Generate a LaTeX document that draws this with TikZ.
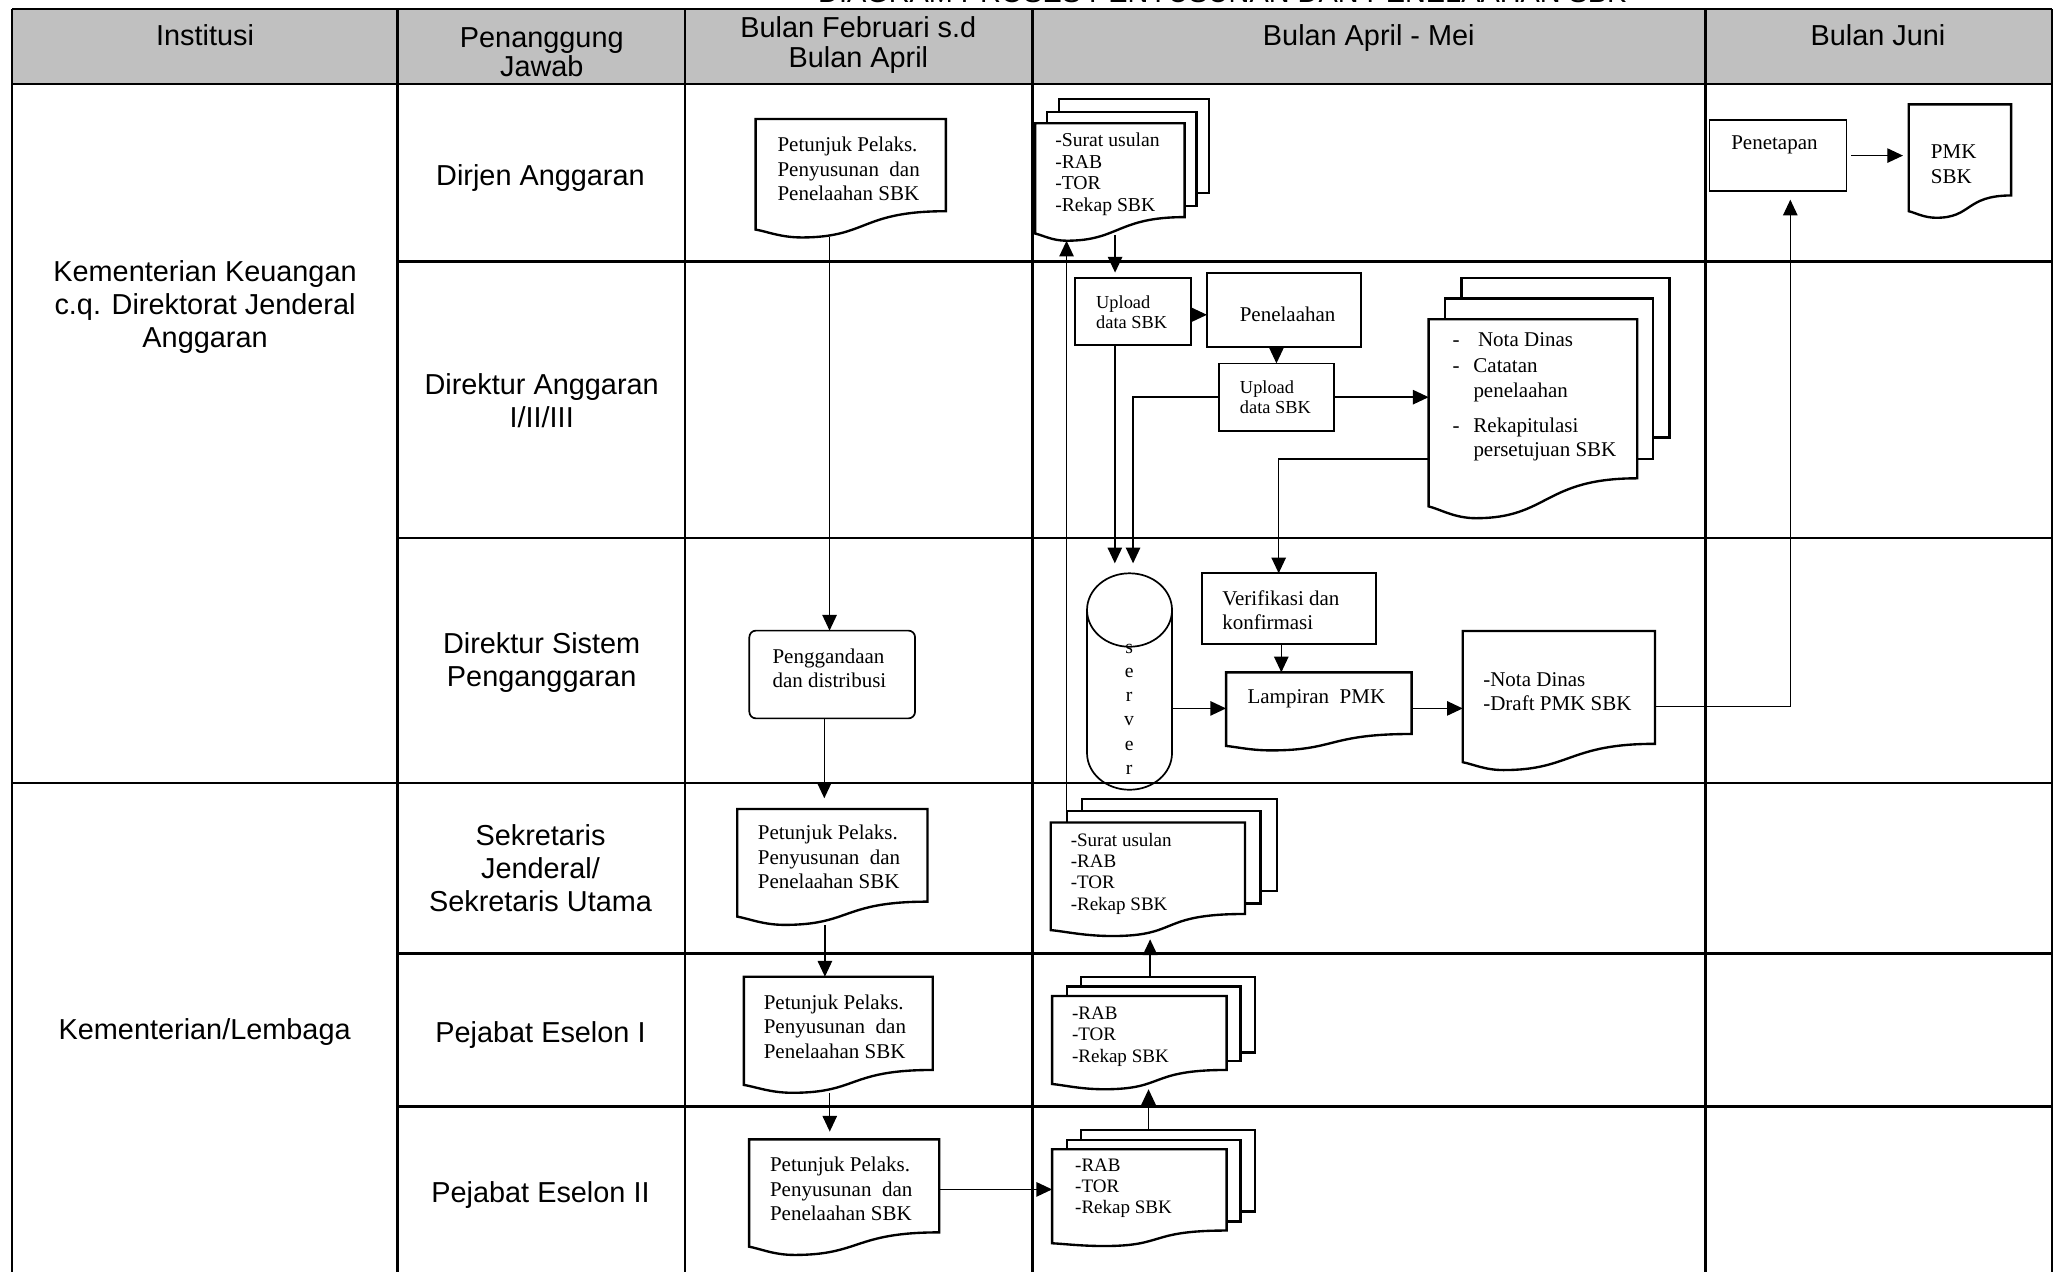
\documentclass[tikz,border=0pt]{standalone}
\usepackage{fontspec}
\setmainfont{Liberation Serif}
\newfontfamily\arialf{Liberation Sans}
\usetikzlibrary{arrows.meta,calc}
\definecolor{hdrgray}{RGB}{192,192,192}
\tikzset{
  gridline/.style={line width=1.9pt},
  sans/.style={font=\arialf\fontsize{22}{25.3}\selectfont, align=center, inner sep=0pt, anchor=north},
  hsans/.style={font=\arialf\fontsize{22}{22.5}\selectfont, align=center, inner sep=0pt, anchor=north},
  area/.style={draw=none, inner sep=0pt, outer sep=0pt, anchor=north west},
  txt/.style={font=\fontsize{16}{18.7}\selectfont, align=left, inner sep=0pt, anchor=north west},
  stxt/.style={font=\fontsize{14.5}{16.3}\selectfont, align=left, inner sep=0pt, anchor=north west},
  boxline/.style={line width=1.3pt},
  docline/.style={line width=1.8pt, line join=miter},
  conn/.style={line width=1.1pt, -{Triangle[length=12pt,width=11pt]}},
}
\newcommand\areanode[5]{\node[area, minimum width={(#4-#2)*1pt}, minimum height={(#5-#3)*1pt}] (#1) at (#2,#3) {};}
\newcommand\docpath[7]{%
  \draw[docline] (#1,#2) -- (#3,#2) -- (#3,#4)
    .. controls ({#1+0.55*(#3-#1)},#4) and ({#5+0.35*(#3-#1)},#6) .. (#5,#6)
    .. controls ({#5-0.45*(#5-#1)},#6) and ({#1+0.25*(#5-#1)},{#7+0.25*(#6-#7)}) .. (#1,#7) -- cycle;}
\newcommand\backpages[9]{%
  \draw[docline] (#1,#9) -- (#1,#2) -- (#3,#2) -- (#3,#4) -- ({#3-(#7-#3)},#4);
  \draw[docline] (#5,#2) -- (#5,#6) -- (#7,#6) -- (#7,#8) -- (#3,#8);}
\begin{document}
\begin{tikzpicture}[x=1pt,y=-1pt]
\useasboundingbox (0,0) rectangle (1568,969);
% ---------- table ----------
\fill[hdrgray] (9,7) rectangle (1564,64);
\draw[gridline] (9,7) -- (1564,7);
\draw[gridline] (9,64) -- (1564,64);
\draw[gridline] (303,199.3) -- (1564,199.3);
\draw[gridline] (303,410.2) -- (1564,410.2);
\draw[gridline] (9,596.8) -- (1564,596.8);
\draw[gridline] (303,726.7) -- (1564,726.7);
\draw[gridline] (303,843.6) -- (1564,843.6);
\foreach \xx in {9,303,522,787,1300,1564} {\draw[gridline] (\xx,7) -- (\xx,975);}
% ---------- headers ----------
\node[hsans, anchor=base west] (title) at (623.5,2) {DIAGRAM PROSES PENYUSUNAN DAN PENELAAHAN SBK};
\node[hsans] (hInst) at (156.3,18.5) {Institusi};
\node[hsans, font=\arialf\fontsize{22}{22.5}\selectfont] (hPj) at (413,20.5) {Penanggung\\Jawab};
\node[hsans, font=\arialf\fontsize{22}{22.8}\selectfont] (hFeb) at (654.3,12.3) {Bulan Februari s.d\\Bulan April};
\node[hsans] (hApr) at (1043.4,18.5) {Bulan April - Mei};
\node[hsans] (hJun) at (1431.5,18.5) {Bulan Juni};
% ---------- row labels ----------
\node[sans] (rKK) at (156.3,198.5) {Kementerian Keuangan\\c.q. Direktorat Jenderal\\Anggaran};
\node[sans] (rDA) at (412,125.2) {Dirjen Anggaran};
\node[sans] (rDir) at (412.9,284.3) {Direktur Anggaran\\I/II/III};
\node[sans] (rDS) at (412.9,482.1) {Direktur Sistem\\Penganggaran};
\node[sans] (rSek) at (412,628.2) {Sekretaris\\Jenderal/\\Sekretaris Utama};
\node[sans] (rKL) at (156,776.2) {Kementerian/Lembaga};
\node[sans] (rE1) at (412,778.2) {Pejabat Eselon I};
\node[sans] (rE2) at (412,900.2) {Pejabat Eselon II};
% ---------- Bulan Februari column ----------
\areanode{dA}{576}{90.7}{721}{181}
\docpath{576}{90.7}{721}{161}{611}{181}{175}
\node[txt] (tA) at (592.5,104.4) {Petunjuk Pelaks.\\Penyusunan\ \ dan\\Penelaahan SBK};
\node[area, draw, line width=1.3pt, rounded corners=5pt, minimum width=126.3pt, minimum height=66.9pt] (pg) at (571.2,480.7) {};
\node[txt, font=\fontsize{16}{18.3}\selectfont] (tpg) at (588.7,494.7) {Penggandaan\\dan distribusi};
\areanode{dC}{562}{616.7}{707}{705}
\docpath{562}{616.7}{707}{687.3}{598}{705}{698.7}
\node[txt] (tC) at (577.5,628.9) {Petunjuk Pelaks.\\Penyusunan\ \ dan\\Penelaahan SBK};
\areanode{dD}{567}{744.5}{711}{833}
\docpath{567}{744.5}{711}{815.6}{604}{833}{827}
\node[txt] (tD) at (582,757.9) {Petunjuk Pelaks.\\Penyusunan\ \ dan\\Penelaahan SBK};
\areanode{dE}{571}{868.5}{716}{956.6}
\docpath{571}{868.5}{716}{939.4}{605.5}{956.6}{950.3}
\node[txt] (tE) at (586.8,881.7) {Petunjuk Pelaks.\\Penyusunan\ \ dan\\Penelaahan SBK};
% ---------- Bulan April - Mei column ----------
\areanode{s1}{789}{75.5}{921.6}{183.5}
\backpages{798}{85.3}{912}{157}{807}{75.5}{921.6}{147}{94}
\docpath{789}{94}{903}{165.5}{813}{183.5}{178}
\node[stxt, font=\fontsize{15}{16.5}\selectfont] (ts1) at (804.2,101) {-Surat usulan\\-RAB\\-TOR\\-Rekap SBK};
\node[area, draw, boxline, minimum width=88.2pt, minimum height=51.3pt] (up1) at (819.4,211.7) {};
\node[txt, font=\fontsize{14}{15.5}\selectfont] (tup1) at (835.4,225.1) {Upload\\data SBK};
\node[area, draw, boxline, minimum width=117.5pt, minimum height=56.7pt] (pen) at (920,208) {};
\node[font=\fontsize{16}{18}\selectfont, inner sep=0pt] (tpen) at (981.5,239.6) {Penelaahan};
\node[area, draw, boxline, minimum width=88pt, minimum height=51.5pt] (up2) at (929,277) {};
\node[txt, font=\fontsize{14}{15.5}\selectfont] (tup2) at (945,289.8) {Upload\\data SBK};
\areanode{s2}{1089}{212}{1272.7}{395}
\backpages{1101.5}{227.4}{1260}{350}{1114}{212}{1272.7}{333.4}{243.4}
\docpath{1089}{243.4}{1248}{364.6}{1125}{395}{386}
\node[txt, font=\fontsize{16}{18.5}\selectfont] (ts2) at (1107,253.4) {\makebox[16pt][l]{-}\hspace*{3.5pt}Nota Dinas\\[1.5pt]\makebox[16pt][l]{-}Catatan\\\hspace*{16pt}penelaahan\\[8.5pt]\makebox[16pt][l]{-}Rekapitulasi\\\hspace*{16pt}persetujuan SBK};
\areanode{srv}{828.6}{437}{893.4}{602}
\draw[boxline] (861,465) ellipse [x radius=32.4, y radius=28];
\draw[boxline] (828.6,465) -- (828.6,574) .. controls (828.6,589.5) and (843.1,602) .. (861,602) .. controls (878.9,602) and (893.4,589.5) .. (893.4,574) -- (893.4,465);
\node[font=\fontsize{15}{18.4}\selectfont, align=center, inner sep=0pt, anchor=south] (tsrv) at (860.7,590.4) {s\\e\\r\\v\\e\\r};
\node[area, draw, boxline, minimum width=133pt, minimum height=54pt] (ver) at (916,437) {};
\node[txt, font=\fontsize{16}{18}\selectfont] (tver) at (931.5,450.4) {Verifikasi dan\\konfirmasi};
\areanode{lam}{934.6}{512.5}{1076}{572}
\docpath{934.6}{512.5}{1076}{559.5}{969}{572}{568.6}
\node[txt] (tlam) at (950.8,525.4) {Lampiran\ \ PMK};
\areanode{nota}{1115}{481}{1261.5}{587}
\docpath{1115}{481}{1261.5}{567}{1146}{587}{581}
\node[txt] (tnota) at (1130.5,512.4) {-Nota Dinas\\-Draft PMK SBK};
\areanode{s3}{801}{609}{973.2}{713.5}
\backpages{813.3}{618}{960.7}{688.6}{824.8}{609}{973.2}{679}{627}
\docpath{801}{627}{949}{696.7}{848}{713.5}{709}
\node[stxt] (ts3) at (816,634.7) {-Surat usulan\\-RAB\\-TOR\\-Rekap SBK};
\areanode{s4}{802}{744.5}{956.4}{830.3}
\backpages{813.3}{752}{945.5}{808.7}{824.2}{744.5}{956.4}{802.4}{759.2}
\docpath{802}{759.2}{935}{815.6}{842}{830.3}{826.3}
\node[stxt] (ts4) at (817,767.3) {-RAB\\-TOR\\-Rekap SBK};
\areanode{s5}{802}{861.3}{956.4}{949.8}
\backpages{813.3}{869}{945.5}{931.2}{824.2}{861.3}{956.4}{923.6}{876}
\docpath{802}{876}{935}{938}{842}{949.8}{947.7}
\node[stxt] (ts5) at (819.4,882.9) {-RAB\\-TOR\\-Rekap SBK};
% ---------- Bulan Juni column ----------
\node[area, draw, boxline, minimum width=104.6pt, minimum height=54.4pt] (pnt) at (1303,91.4) {};
\node[txt, anchor=north] (tpnt) at (1352.6,103.4) {Penetapan};
\areanode{pmk}{1455}{79.6}{1533}{166}
\docpath{1455}{79.6}{1533}{149}{1476}{166}{161}
\node[txt] (tpmk) at (1471.7,110.4) {PMK\\SBK};
% ---------- connectors ----------
\coordinate (c1) at ([xshift=-2pt]pg.north);
\draw[conn] (c1 |- dA.south) -- (c1);
\coordinate (c2) at ([xshift=-6pt]pg.south);
\draw[conn, shorten >=8.2pt] (c2) -- (c2 |- dC.north);
\coordinate (c3) at ([xshift=-5.7pt]dC.south);
\draw[conn] (c3) -- (c3 |- dD.north);
\coordinate (c4) at ([xshift=-6.5pt]dD.south);
\draw[conn, shorten >=5.9pt] (c4) -- (c4 |- dE.north);
\coordinate (c5) at ([yshift=5.9pt]dE.east);
\draw[conn] (c5) -- (c5 -| s5.west);
\coordinate (c6) at ([xshift=-3.7pt]s5.north);
\draw[conn] (c6) -- (c6 |- s4.south);
\coordinate (c7) at ([xshift=-2.5pt]s4.north);
\draw[conn, shorten >=2.5pt] (c7) -- (c7 |- s3.south);
\coordinate (c8) at ([shift={(12pt,-18pt)}]s3.north west);
\draw[conn] (c8) -- (c8 |- s1.south);
\coordinate (c9) at ([xshift=-13.5pt]up1.north);
\draw[conn, shorten <=-4.5pt, shorten >=3.9pt] (c9 |- s1.south) -- (c9);
\coordinate (c10) at ([yshift=-2.6pt]up1.east);
\draw[conn] (c10) -- (c10 -| pen.west);
\draw[conn] (up2.north |- pen.south) -- (up2.north);
\draw[conn] (up2.east) -- (up2.east -| s2.west);
\coordinate (c11) at ([xshift=2.7pt]srv.north);
\draw[conn, shorten >=7.6pt] (up2.west) -| (c11);
\coordinate (c12) at ([xshift=-11.2pt]srv.north);
\draw[conn, shorten >=7.6pt] (c12 |- up1.south) -- (c12);
\coordinate (c13) at ([yshift=-46.5pt]s2.west);
\coordinate (c14) at ([xshift=-7.8pt]ver.north);
\draw[conn] (c13) -| (c14);
\coordinate (c15) at ([xshift=-5.8pt]ver.south);
\draw[conn] (c15) -- (c15 |- lam.north);
\coordinate (c16) at ([yshift=-20.5pt]srv.east);
\draw[conn] (c16) -- (c16 -| lam.west);
\coordinate (c17) at ([yshift=2.25pt]lam.east);
\draw[conn] (c17) -- (c17 -| nota.west);
\coordinate (c18) at ([yshift=-4.7pt]nota.east);
\coordinate (c19) at ([xshift=9.4pt]pnt.south);
\draw[conn, shorten >=6.4pt] (c18) -| (c19);
\draw[conn, shorten <=3.4pt, shorten >=4.4pt] (pnt.east) -- (pnt.east -| pmk.west);
\end{tikzpicture}
\end{document}
